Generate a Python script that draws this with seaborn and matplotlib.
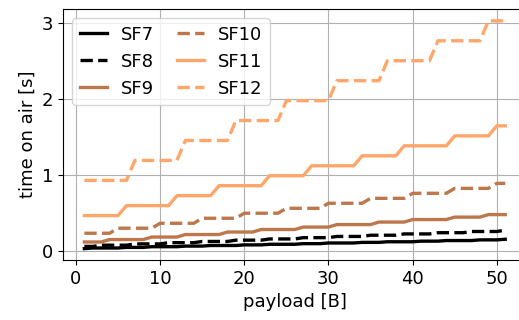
import numpy as np
import pandas as pd
import seaborn as sns
import matplotlib
matplotlib.use("Agg")
import matplotlib.pyplot as plt

# payload sizes in bytes
payload = list(range(1, 52))

# time on air [s] per spreading factor
sf7 = [0.029, 0.037, 0.037, 0.037, 0.037, 0.045, 0.045, 0.045, 0.054, 0.054,
       0.054, 0.054, 0.062, 0.062, 0.062, 0.070, 0.070, 0.070, 0.070, 0.078,
       0.078, 0.078, 0.086, 0.086, 0.086, 0.086, 0.094, 0.094, 0.094, 0.103,
       0.103, 0.103, 0.103, 0.111, 0.111, 0.111, 0.119, 0.119, 0.119, 0.119,
       0.127, 0.127, 0.127, 0.135, 0.135, 0.135, 0.135, 0.144, 0.144, 0.144,
       0.152]
sf8 = [0.058, 0.058, 0.074, 0.074, 0.074, 0.074, 0.091, 0.091, 0.091, 0.091,
       0.107, 0.107, 0.107, 0.107, 0.123, 0.123, 0.123, 0.123, 0.140, 0.140,
       0.140, 0.140, 0.156, 0.156, 0.156, 0.156, 0.173, 0.173, 0.173, 0.173,
       0.189, 0.189, 0.189, 0.189, 0.205, 0.205, 0.205, 0.205, 0.222, 0.222,
       0.222, 0.222, 0.238, 0.238, 0.238, 0.238, 0.254, 0.254, 0.254, 0.254,
       0.271]
sf9 = [0.116, 0.116, 0.116, 0.148, 0.148, 0.148, 0.148, 0.148, 0.181, 0.181,
       0.181, 0.181, 0.214, 0.214, 0.214, 0.214, 0.214, 0.247, 0.247, 0.247,
       0.247, 0.280, 0.280, 0.280, 0.280, 0.280, 0.312, 0.312, 0.312, 0.312,
       0.345, 0.345, 0.345, 0.345, 0.345, 0.378, 0.378, 0.378, 0.378, 0.411,
       0.411, 0.411, 0.411, 0.411, 0.443, 0.443, 0.443, 0.443, 0.476, 0.476,
       0.476]
sf10 = [0.231, 0.231, 0.231, 0.231, 0.297, 0.297, 0.297, 0.297, 0.297, 0.362,
        0.362, 0.362, 0.362, 0.362, 0.428, 0.428, 0.428, 0.428, 0.428, 0.494,
        0.494, 0.494, 0.494, 0.494, 0.559, 0.559, 0.559, 0.559, 0.559, 0.625,
        0.625, 0.625, 0.625, 0.625, 0.690, 0.690, 0.690, 0.690, 0.690, 0.756,
        0.756, 0.756, 0.756, 0.756, 0.821, 0.821, 0.821, 0.821, 0.821, 0.887,
        0.887]
sf11 = [0.463, 0.463, 0.463, 0.463, 0.463, 0.594, 0.594, 0.594, 0.594, 0.594,
        0.594, 0.725, 0.725, 0.725, 0.725, 0.725, 0.856, 0.856, 0.856, 0.856,
        0.856, 0.856, 0.987, 0.987, 0.987, 0.987, 0.987, 1.118, 1.118, 1.118,
        1.118, 1.118, 1.118, 1.249, 1.249, 1.249, 1.249, 1.249, 1.380, 1.380,
        1.380, 1.380, 1.380, 1.380, 1.511, 1.511, 1.511, 1.511, 1.511, 1.643,
        1.643]
sf12 = [0.926, 0.926, 0.926, 0.926, 0.926, 0.926, 1.188, 1.188, 1.188, 1.188,
        1.188, 1.188, 1.450, 1.450, 1.450, 1.450, 1.450, 1.450, 1.712, 1.712,
        1.712, 1.712, 1.712, 1.712, 1.974, 1.974, 1.974, 1.974, 1.974, 1.974,
        2.236, 2.236, 2.236, 2.236, 2.236, 2.236, 2.499, 2.499, 2.499, 2.499,
        2.499, 2.499, 2.761, 2.761, 2.761, 2.761, 2.761, 2.761, 3.023, 3.023,
        3.023]

series = {"SF7": sf7, "SF8": sf8, "SF9": sf9, "SF10": sf10, "SF11": sf11, "SF12": sf12}

rows = []
for name, vals in series.items():
    for pl, t in zip(payload, vals):
        rows.append({"payload": pl, "toa": t, "SF": name})
df = pd.DataFrame(rows)

palette = {"SF7": "#000000", "SF8": "#000000", "SF9": "#bd774b",
           "SF10": "#bd774b", "SF11": "#ffa66a", "SF12": "#ffa66a"}
dashes = {"SF7": "", "SF8": (3.7, 1.6), "SF9": "", "SF10": (3.7, 1.6),
          "SF11": "", "SF12": (3.7, 1.6)}

plt.rcParams["font.family"] = ["DejaVu Sans"]
fig = plt.figure(figsize=(5.19, 3.2), dpi=100)
ax = fig.add_axes([0.122, 0.1875, 0.892, 0.783])

sns.lineplot(data=df, x="payload", y="toa", hue="SF", style="SF",
             palette=palette, dashes=dashes, hue_order=list(series),
             style_order=list(series), estimator=None, sort=False,
             linewidth=2.4, ax=ax)

ax.grid(True, color="#b0b0b0", linewidth=0.8)
ax.set_axisbelow(True)
ax.set_xlabel("payload [B]", fontsize=13)
ax.set_ylabel("time on air [s]", fontsize=13)
ax.tick_params(labelsize=13)
ax.set_xticks([0, 10, 20, 30, 40, 50])
ax.set_yticks([0, 1, 2, 3])

sns.move_legend(ax, "upper left", ncol=2, title=None, fontsize=13,
                handlelength=1.5, columnspacing=1.25)

fig.savefig("out.png", dpi=100)
